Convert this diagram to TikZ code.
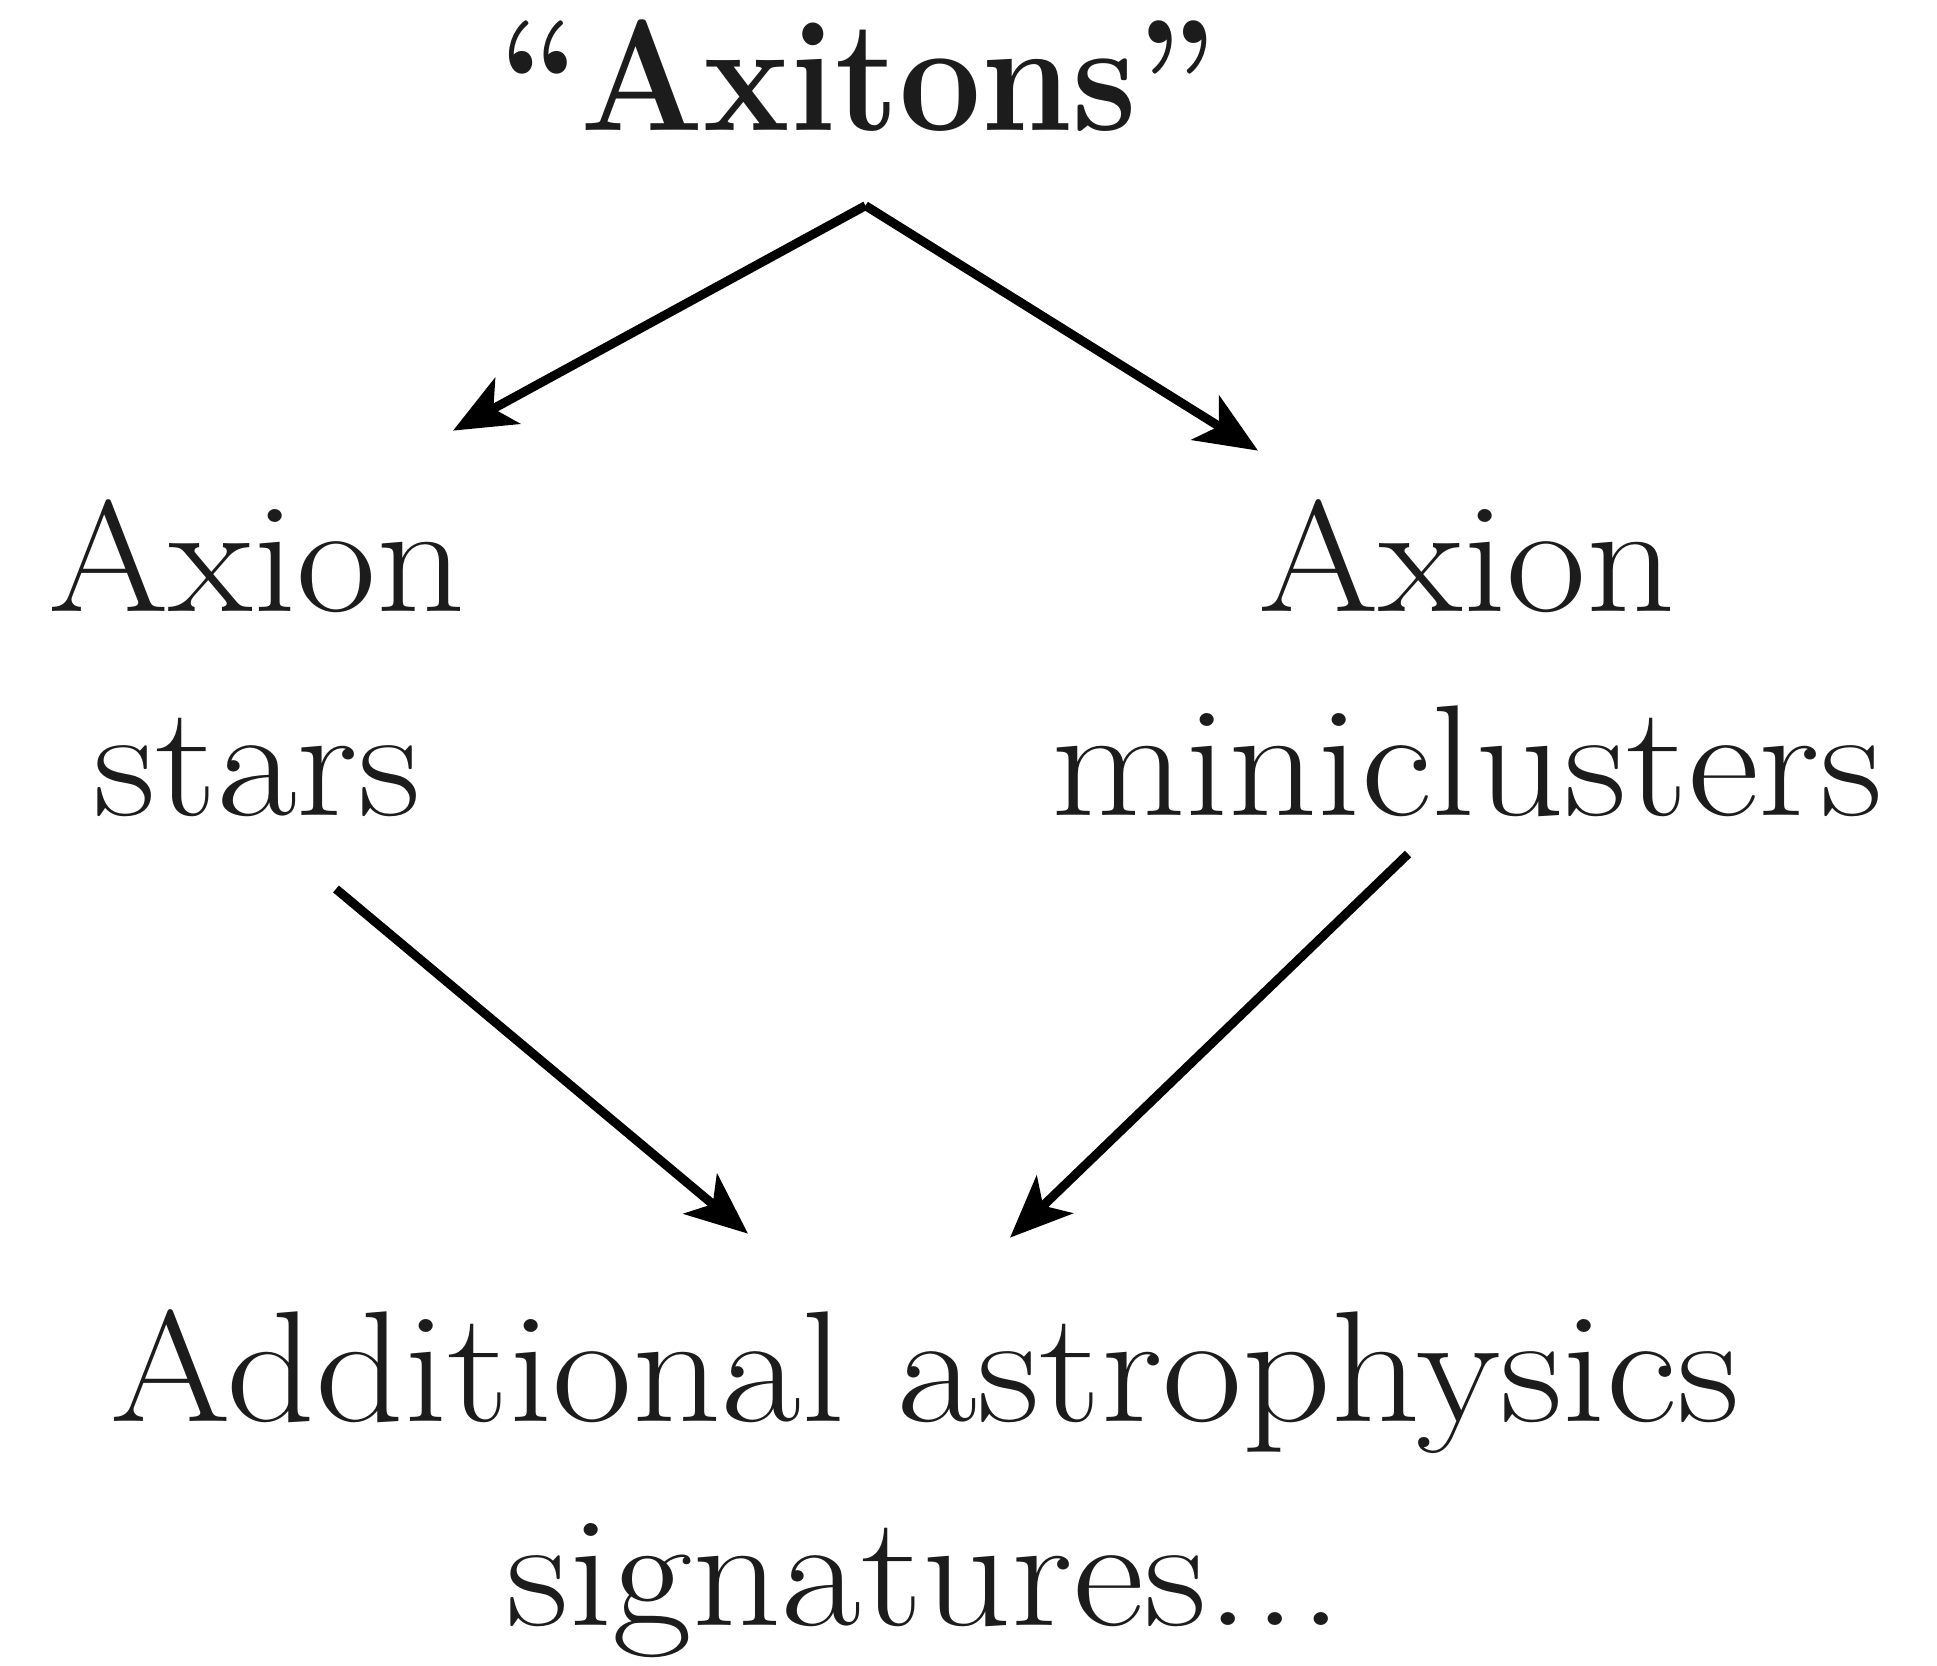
\documentclass[tikz,border=0pt]{standalone}
\usepackage{fontspec}
\setmainfont{Latin Modern Roman}[FakeStretch=1.1]
\newfontfamily\titlefont{Latin Modern Roman}[FakeStretch=0.92]
\usetikzlibrary{arrows.meta,positioning,calc}
\definecolor{ink}{RGB}{28,28,28}

\begin{document}
\begin{tikzpicture}[
  label/.style={inner sep=0pt, align=center, anchor=base, text=ink, font=\fontsize{45}{58}\selectfont},
  arr/.style={line width=0.09cm, -{Stealth[length=0.62cm, width=0.52cm, inset=0.16cm]}}
]
\useasboundingbox (0,0) rectangle (19.37,-16.65);

\node[label, font=\fontsize{45}{58}\titlefont\bfseries] (axitons) at (8.585,-1.30) {“Axitons”};
% base anchor sits on the last line
\node[label] (stars) at (2.57,-8.15) {Axion\\stars};
\node[label] (mini) at (14.67,-8.15) {Axion\\miniclusters};
\node[label] (astro) at (9.25,-16.25) {Additional astrophysics\\signatures.\kern0.02em.\kern0.02em.};

\coordinate (apex) at ([shift={(0.07,-0.74)}]axitons.south);

\draw[arr] (apex) -- ([shift={(1.96,0.68)}]stars.north);
\draw[arr] (apex) -- ([shift={(-2.09,0.48)}]mini.north);
\draw[arr] ([shift={(0.79,-0.72)}]stars.south) -- ([shift={(-1.77,0.75)}]astro.north);
\draw[arr] ([shift={(-0.59,-0.37)}]mini.south) -- ([shift={(0.85,0.71)}]astro.north);
\end{tikzpicture}
\end{document}
